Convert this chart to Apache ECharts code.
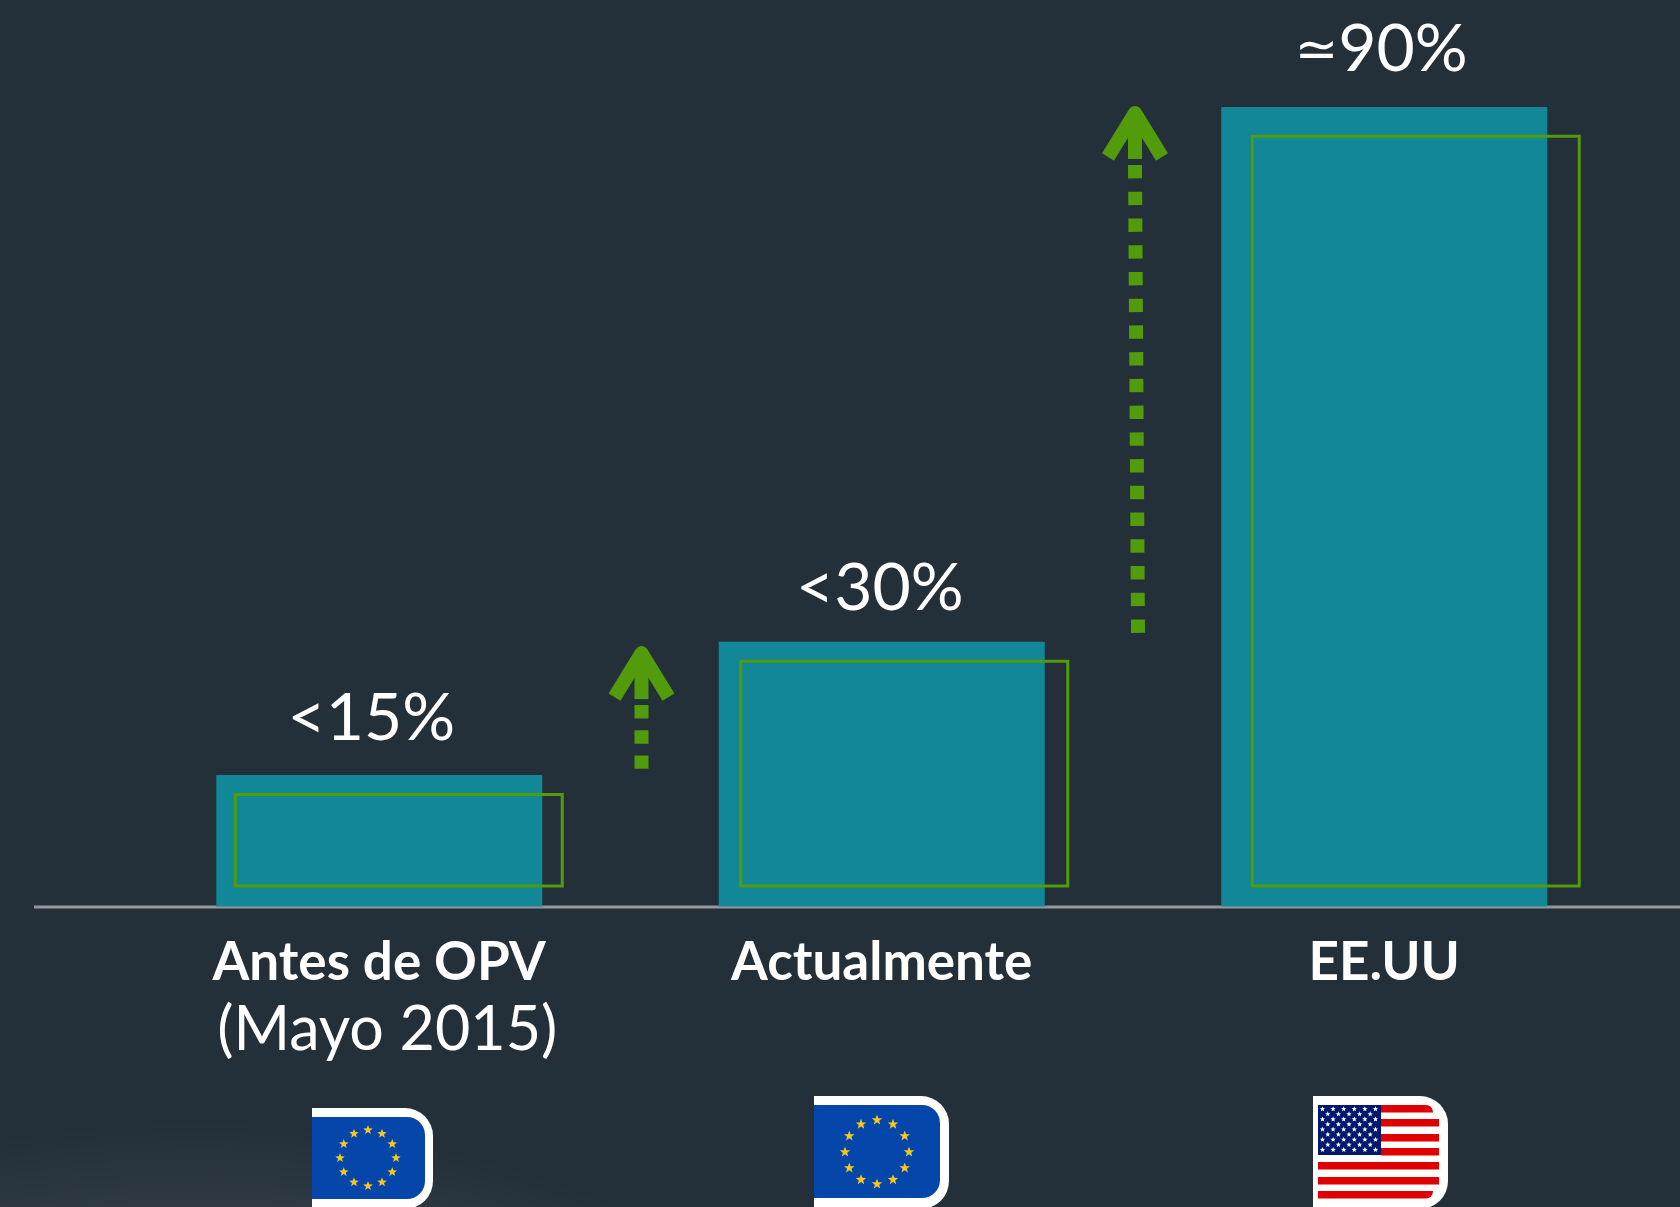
<!DOCTYPE html>
<html>
<head>
<meta charset="utf-8">
<style>
    html, body { margin: 0; padding: 0; background: #232f39; }
    #chart { width: 1680px; height: 1207px; }
</style>
<script src="https://cdn.jsdelivr.net/npm/echarts@6/dist/echarts.min.js"></script>
</head>
<body>
<div id="chart"></div>
<script>
// datos
var categories = ['Antes de OPV', 'Actualmente', 'EE.UU'];
var subLabels = ['(Mayo 2015)', '', ''];
var barValues = [14.8, 29.8, 90];
var valueLabels = ['<15%', '<30%', '{s|≃}90%'];
var outlineLow = [2.3, 2.3, 2.3];
var outlineHigh = [12.6, 27.6, 86.7];
var arrowFrom = [0, 1];
var arrowLow = [15.5, 30.8];
var arrowHigh = [29.2, 90];

var FONT = 'Lato, "Open Sans", "DejaVu Sans", sans-serif';
var GREEN = '#529b0a';
var TEAL = '#118798';

var myChart = echarts.init(document.getElementById('chart'));

// desplazamiento en px del recuadro verde y de las flechas
var outlineShift = [19, 22, 31];
var outlineWidth = 327;
var arrowShift = [11, 2];
var arrowLean = [0, 3];

function renderOutline(params, api) {
    var i = api.value(0);
    var low = api.coord([i, api.value(1)]);
    var high = api.coord([i, api.value(2)]);
    var left = low[0] - 163 + outlineShift[i];
    return {
        type: 'rect',
        shape: { x: left, y: high[1], width: outlineWidth, height: low[1] - high[1] },
        style: { fill: 'none', stroke: GREEN, lineWidth: 3 }
    };
}

function renderArrow(params, api) {
    var i = api.value(0);
    var a = api.coord([i, api.value(1)]);
    var b = api.coord([i + 1, api.value(2)]);
    var x = (a[0] + b[0]) / 2 + arrowShift[params.dataIndex];
    var lean = arrowLean[params.dataIndex];
    var top = b[1];
    var bottom = a[1];
    // el trazo termina en un segmento completo
    var dash = 13.4;
    var len = bottom - (top + 58);
    var n = Math.round((len - dash) / (2 * dash));
    var gap = (len - (n + 1) * dash) / n;
    return {
        type: 'group',
        children: [{
            type: 'line',
            shape: { x1: x + lean, y1: bottom, x2: x, y2: top + 58 },
            style: { stroke: GREEN, lineWidth: 14, lineDash: [dash, gap] }
        }, {
            type: 'line',
            shape: { x1: x, y1: top + 52, x2: x, y2: top + 10 },
            style: { stroke: GREEN, lineWidth: 14 }
        }, {
            type: 'polyline',
            shape: { points: [[x - 27, top + 50], [x, top + 6], [x + 27, top + 50]] },
            style: { fill: 'none', stroke: GREEN, lineWidth: 14, lineJoin: 'round' }
        }]
    };
}

// estrella de cinco puntas
function starPoints(cx, cy, r) {
    var pts = [];
    for (var i = 0; i < 10; i++) {
        var rad = i % 2 ? r * 0.42 : r;
        var ang = -Math.PI / 2 + i * Math.PI / 5;
        pts.push([cx + rad * Math.cos(ang), cy + rad * Math.sin(ang)]);
    }
    return pts;
}

function star(cx, cy, r, color) {
    return { type: 'polygon', shape: { points: starPoints(cx, cy, r) }, style: { fill: color } };
}

function rect(x, y, w, h, color, r) {
    return { type: 'rect', shape: { x: x, y: y, width: w, height: h, r: r || 0 }, style: { fill: color } };
}

// bandera de la UE
function euFlag(left, top, right, blueTop, blueRight, blueBottom, cx, cy, ring, starSize) {
    var items = [
        rect(left, top, right - left, 1209 - top, '#ffffff', [0, 28, 28, 0]),
        rect(left, blueTop, blueRight - left, blueBottom - blueTop, '#0546aa', [0, 18, 18, 0])
    ];
    for (var i = 0; i < 12; i++) {
        var ang = i * Math.PI / 6;
        items.push(star(cx + ring * Math.sin(ang), cy - ring * Math.cos(ang), starSize, '#f6c81e'));
    }
    return items;
}

// bandera de EE.UU
function usFlag() {
    var items = [rect(1313, 1096, 135, 113, '#ffffff', [0, 28, 28, 0])];
    var stripes = [1105, 1119, 1134, 1148, 1162, 1177, 1191];
    stripes.forEach(function (y, i) {
        var r = i === 0 ? [0, 7, 0, 0] : (i === 6 ? [0, 0, 7, 0] : 0);
        var right = (i === 0 || i === 6) ? 1433 : 1439;
        items.push(rect(i < 4 ? 1381 : 1318, y, right - (i < 4 ? 1381 : 1318), 7.5, '#e00000', r));
    });
    items.push(rect(1318, 1105, 63, 50, '#00186e'));
    for (var row = 0; row < 9; row++) {
        var odd = row % 2 === 1;
        var n = odd ? 5 : 6;
        for (var c = 0; c < n; c++) {
            items.push(star(1322.5 + (odd ? 5.3 : 0) + c * 10.6, 1109 + row * 5.1, 2.8, '#ffffff'));
        }
    }
    return items;
}

var graphicItems = [{
    // zona algo mas clara abajo a la izquierda
    type: 'rect',
    z: -1,
    shape: { x: 0, y: 1100, width: 800, height: 107 },
    style: {
        fill: {
            type: 'radial', x: 200, y: 2200, r: 1080, global: true,
            colorStops: [
                { offset: 0, color: 'rgba(255,255,255,0.07)' },
                { offset: 0.91, color: 'rgba(255,255,255,0.06)' },
                { offset: 1, color: 'rgba(255,255,255,0)' }
            ]
        }
    }
}, {
    type: 'line',
    shape: { x1: 34, y1: 907, x2: 1680, y2: 907 },
    style: { stroke: '#93969a', lineWidth: 3 }
}]
    .concat(euFlag(312, 1108, 433, 1117, 425, 1199, 368, 1158, 28, 5))
    .concat(euFlag(814, 1096, 949, 1105, 940, 1198, 877, 1152, 32, 5.5))
    .concat(usFlag());

var labelOffset = [[-8, -1], [-2, 2], [-3, -2]];

var option = {
    animation: false,
    backgroundColor: '#232f39',
    grid: { left: 128, right: 44.5, top: 107, bottom: 300.5 },
    xAxis: {
        type: 'category',
        data: categories,
        axisLine: { show: false },
        axisTick: { show: false },
        axisLabel: {
            margin: 23,
            interval: 0,
            formatter: function (value, index) {
                var s = '{b|' + value + '}';
                if (subLabels[index]) s += '\n{r|' + subLabels[index] + '}';
                return s;
            },
            rich: {
                b: { fontFamily: FONT, fontWeight: 'bold', fontSize: 53, lineHeight: 66, color: '#ffffff' },
                r: { fontFamily: FONT, fontSize: 61, lineHeight: 70, color: '#ffffff', padding: [0, 0, 0, 16] }
            }
        }
    },
    yAxis: { type: 'value', min: 0, max: 90, show: false },
    series: [{
        type: 'bar',
        barWidth: 326,
        itemStyle: { color: TEAL },
        label: {
            show: true,
            position: 'top',
            distance: 22,
            fontFamily: FONT,
            fontSize: 66,
            color: '#ffffff',
            rich: {
                s: { fontFamily: FONT, fontSize: 52, color: '#ffffff' }
            }
        },
        data: barValues.map(function (v, i) {
            return {
                value: v,
                label: { formatter: valueLabels[i], offset: labelOffset[i] }
            };
        })
    }, {
        type: 'custom',
        renderItem: renderOutline,
        encode: { x: 0, y: [1, 2] },
        z: 3,
        data: outlineLow.map(function (v, i) { return [i, v, outlineHigh[i]]; })
    }, {
        type: 'custom',
        renderItem: renderArrow,
        encode: { x: 0, y: [1, 2] },
        z: 3,
        data: arrowFrom.map(function (c, i) { return [c, arrowLow[i], arrowHigh[i]]; })
    }],
    graphic: { elements: graphicItems }
};

myChart.setOption(option);
</script>
</body>
</html>
